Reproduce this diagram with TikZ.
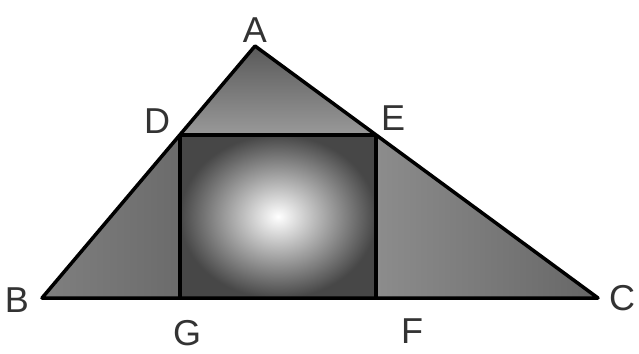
\documentclass[tikz,border=0pt]{standalone}
\usepackage{fontspec}
\setmainfont{Liberation Sans}
\begin{document}
\begin{tikzpicture}[x=1pt,y=-1pt,
  lbl/.style={font=\fontsize{36}{36}\selectfont, text=black!80, inner sep=0pt},
  edge/.style={line width=3.5pt, line join=round}]
\useasboundingbox (0,0) rectangle (639,353);
\coordinate (A) at (255,46);
\coordinate (B) at (42,298);
\coordinate (C) at (598,298);
\coordinate (D) at (180,135);
\coordinate (E) at (376,135);
\coordinate (G) at (180,298);
\coordinate (F) at (376,298);
% fills
\shade[top color=black!65, bottom color=black!40] (A) -- (D) -- (E) -- cycle;
\shade[left color=black!50, right color=black!58] (D) -- (B) -- (G) -- cycle;
\shade[left color=black!45, right color=black!60] (E) -- (F) -- (C) -- cycle;
\shade[inner color=white, outer color=black!72] (D) rectangle (F);
% outlines
\draw[edge] (A) -- (B) -- (C) -- cycle;
\draw[edge] (D) -- (E);
\draw[edge] (D) -- (G);
\draw[edge] (E) -- (F);
% labels
\node[lbl] (lA) at (255,30) {A};
\node[lbl] (lD) at (157,121) {D};
\node[lbl] (lE) at (393,118) {E};
\node[lbl] (lB) at (17,300) {B};
\node[lbl] (lC) at (622,298) {C};
\node[lbl] (lG) at (187,333) {G};
\node[lbl] (lF) at (412,331) {F};
\end{tikzpicture}
\end{document}
